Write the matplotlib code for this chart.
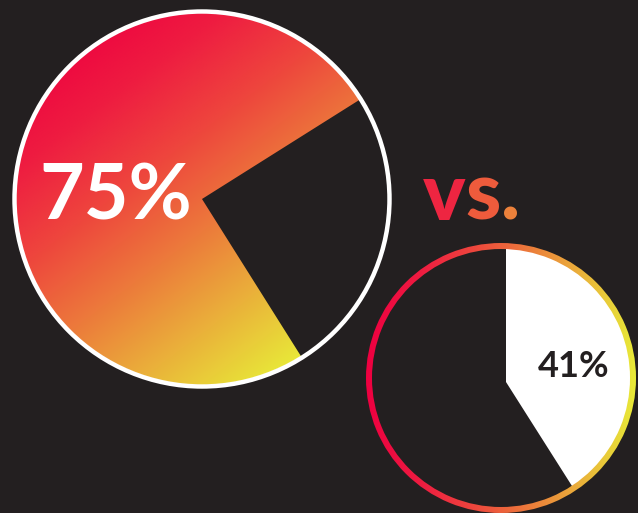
import numpy as np
import matplotlib
matplotlib.use("Agg")
import matplotlib.pyplot as plt
from matplotlib.patches import Wedge, Circle
from matplotlib.colors import LinearSegmentedColormap

# ---- data ----
labels = ["75%", "41%"]
values = [75, 41]          # percent shares
compare_word = "vs."

BG = "#231f20"
W, H = 638, 513

grad = LinearSegmentedColormap.from_list(
    "g", ["#ee0040", "#ee1c41", "#ee463d", "#ec7a3b", "#eab23a", "#e8ea38"])

fig = plt.figure(figsize=(W / 100, H / 100), dpi=100, facecolor=BG)
ax = fig.add_axes([0, 0, 1, 1])
ax.set_xlim(0, W)
ax.set_ylim(0, H)
ax.set_aspect("equal")
ax.axis("off")
ax.set_facecolor(BG)

def Y(y):
    return H - y

def grad_image(clip, x0, x1, y0, y1, fn, cmap, z):
    xs = np.linspace(x0, x1, 400)
    ys = np.linspace(y0, y1, 400)
    XX, YY = np.meshgrid(xs, ys)
    T = np.clip(fn(XX, YY), 0, 1)
    im = ax.imshow(T, extent=(x0, x1, y0, y1), origin="lower", cmap=cmap,
                   vmin=0, vmax=1, interpolation="bilinear", zorder=z)
    im.set_clip_path(clip)
    return im

# ---- big pie ----
cx1, cy1, r1 = 202, Y(199), 186
start1 = 32.2
frac1 = values[0] / 100.0
w1 = Wedge((cx1, cy1), r1, start1, start1 + 360 * frac1, facecolor="none",
           edgecolor="none")
ax.add_patch(w1)

def big_t(X, Yd):
    ximg, yimg = X, H - Yd
    v = 0.75 * (ximg - 50) + 1.0 * (yimg - 40)
    return v / 510.0

grad_image(w1, cx1 - r1, cx1 + r1, cy1 - r1, cy1 + r1, big_t, grad, 2)
ax.add_patch(Circle((cx1, cy1), r1 + 1.5, facecolor="none",
                    edgecolor="white", linewidth=3.2, zorder=3))

ax.text(39, Y(220), labels[0], color="white", fontsize=55.5,
        fontfamily="Lato", fontweight="bold", ha="left", va="baseline",
        zorder=5)

# ---- small pie ----
cx2, cy2, r2 = 501, Y(378), 135
px, py = 506, Y(382)
frac2 = values[1] / 100.0
inner = Circle((cx2, cy2), r2 - 5, facecolor="none", edgecolor="none")
ax.add_patch(inner)
w2 = Wedge((px, py), r2 + 10, 90 - 360 * frac2, 90, facecolor="white",
           edgecolor="none", zorder=2)
ax.add_patch(w2)
w2.set_clip_path(inner)
ring = Wedge((cx2, cy2), r2, 0, 360, width=6, facecolor="none",
             edgecolor="none")
ax.add_patch(ring)

def ring_t(X, Yd):
    return (X - (cx2 - r2)) / (2 * r2)

grad_image(ring, cx2 - r2, cx2 + r2, cy2 - r2, cy2 + r2, ring_t, grad, 3)

ax.text(538, Y(377), labels[1], color=BG, fontsize=26,
        fontfamily="Lato", fontweight="bold", ha="left", va="baseline",
        zorder=5)

# ---- "vs." as real text, coloured along a horizontal gradient ----
vs_cmap = LinearSegmentedColormap.from_list("vs", ["#ee0844", "#ee4a3d", "#ec8e3a"])
renderer = fig.canvas.get_renderer()
x = 423
x0, span = 423, 97.0
for ch in compare_word:
    t = ax.text(x, Y(220), ch, fontsize=57.6, fontfamily="Lato",
                fontweight="black", ha="left", va="baseline", zorder=5)
    bb = t.get_window_extent(renderer)
    wdt = bb.width
    t.set_color(vs_cmap(np.clip((x + wdt / 2 - x0) / span, 0, 1)))
    x += wdt

fig.savefig("out.png", dpi=100, facecolor=BG)
